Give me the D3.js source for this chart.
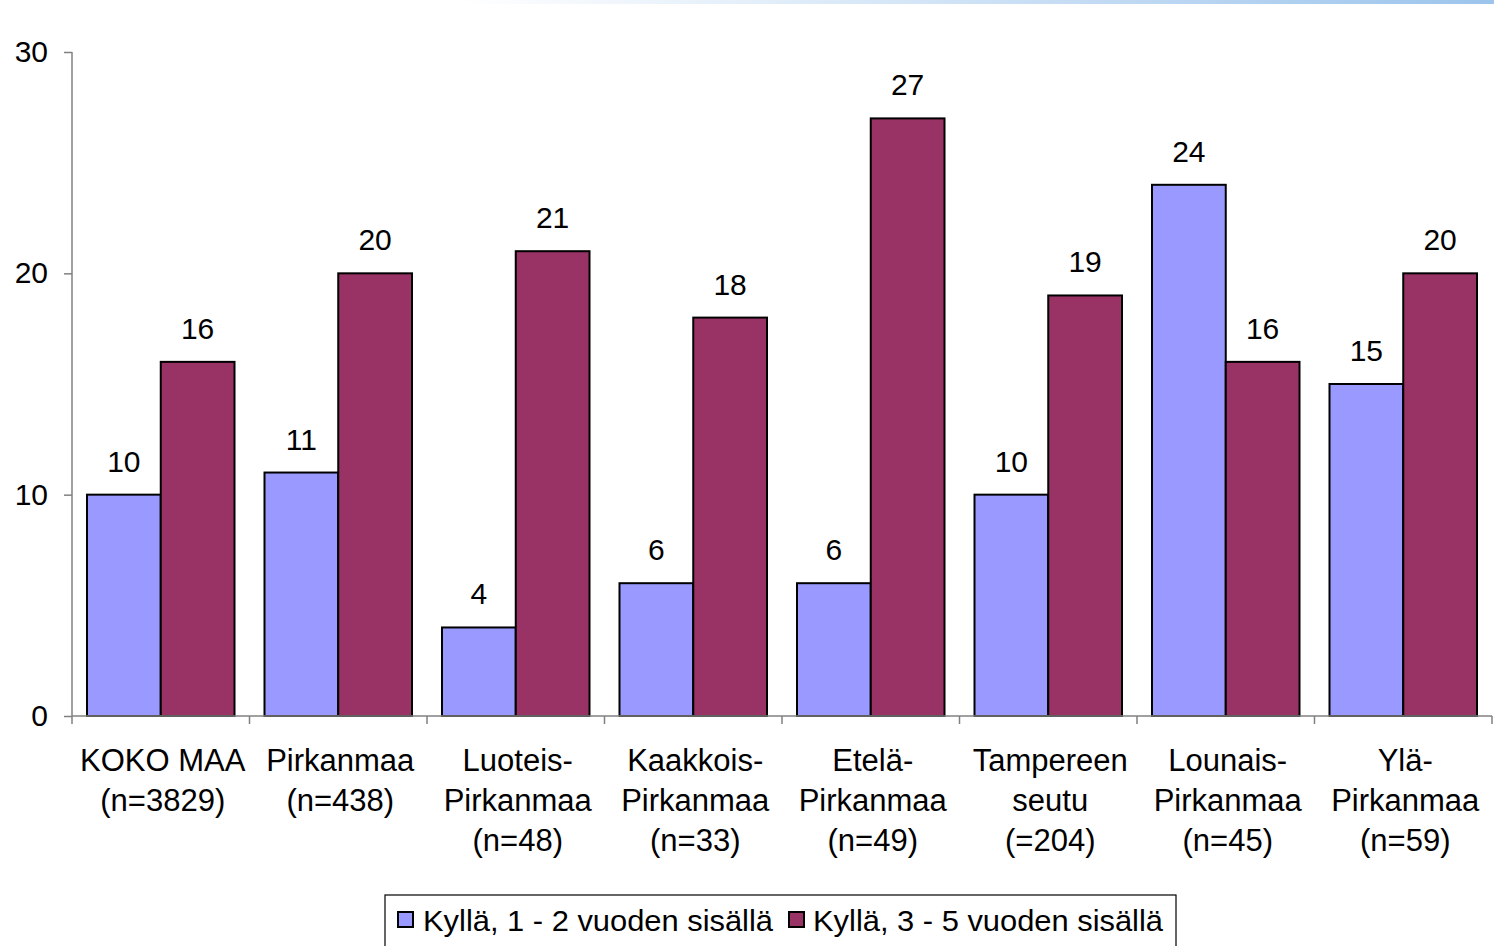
<!DOCTYPE html>
<html><head><meta charset="utf-8">
<script src="https://cdn.jsdelivr.net/npm/d3@7"></script>
<style>body{margin:0;background:#fff;}svg{display:block;font-family:"Liberation Sans",Arial,sans-serif;}</style>
</head><body><svg id="c" width="1494" height="946"></svg>
<script>
const categories = [
  ["KOKO MAA","(n=3829)"],
  ["Pirkanmaa","(n=438)"],
  ["Luoteis-","Pirkanmaa","(n=48)"],
  ["Kaakkois-","Pirkanmaa","(n=33)"],
  ["Etelä-","Pirkanmaa","(n=49)"],
  ["Tampereen","seutu","(=204)"],
  ["Lounais-","Pirkanmaa","(n=45)"],
  ["Ylä-","Pirkanmaa","(n=59)"]
];
const seriesNames = ["Kyllä, 1 - 2 vuoden sisällä","Kyllä, 3 - 5 vuoden sisällä"];
const series1 = [10,11,4,6,6,10,24,15];
const series2 = [16,20,21,18,27,19,16,20];
const yTicks = [0,10,20,30];
const colors = ["#9999FF","#993366"];

const svg = d3.select("#c");
const defs = svg.append("defs");
const g = defs.append("linearGradient").attr("id","topg").attr("x1","0").attr("x2","1");
g.append("stop").attr("offset","0").attr("stop-color","#ffffff");
g.append("stop").attr("offset","1").attr("stop-color","#9cc4ec");
svg.append("rect").attr("x",460).attr("y",0).attr("width",1034).attr("height",4).attr("fill","url(#topg)");

const keys = categories.map(c=>c.join(" "));
const x0 = d3.scaleBand().domain(keys).range([72,1492]).padding(0);
const x1 = d3.scaleBand().domain(seriesNames).range([15, x0.bandwidth()-15]).padding(0);
const y = d3.scaleLinear().domain([0,30]).range([716,52]);

// y axis
const ya = svg.append("g").attr("transform","translate(72,0)")
  .call(d3.axisLeft(y).tickValues(yTicks).tickSize(8).tickPadding(16).tickFormat(d3.format("d")));
ya.select(".domain").attr("stroke","#808080").attr("stroke-width",1.5).attr("d","M0,52V716");
ya.selectAll(".tick line").attr("stroke","#808080").attr("stroke-width",1.5);
ya.selectAll(".tick text").attr("font-size",30).attr("fill","#000").attr("font-family","Liberation Sans, Arial, sans-serif");

// bars
const data = keys.map((k,i)=>({k, vals:[series1[i],series2[i]]}));
const grp = svg.append("g").selectAll("g").data(data).join("g").attr("transform",d=>`translate(${x0(d.k)},0)`);
grp.selectAll("rect").data(d=>d.vals.map((v,j)=>({v,s:seriesNames[j],j}))).join("rect")
  .attr("x",d=>x1(d.s)).attr("width",x1.bandwidth())
  .attr("y",d=>y(d.v)).attr("height",d=>y(0)-y(d.v))
  .attr("fill",d=>colors[d.j]).attr("stroke","#000").attr("stroke-width",2);
grp.selectAll("text").data(d=>d.vals.map((v,j)=>({v,s:seriesNames[j],j}))).join("text")
  .attr("x",d=>x1(d.s)+x1.bandwidth()/2).attr("y",d=>y(d.v)-23)
  .attr("text-anchor","middle").attr("font-size",30).text(d=>d.v);

// x axis
const xa = svg.append("g");
xa.append("line").attr("x1",72).attr("x2",1492).attr("y1",716).attr("y2",716).attr("stroke","#808080").attr("stroke-width",1.5);
const bounds = keys.map(k=>x0(k)).concat([x0.range()[1]]);
xa.selectAll("line.t").data(bounds).join("line").attr("class","t")
  .attr("x1",d=>d).attr("x2",d=>d).attr("y1",716).attr("y2",724).attr("stroke","#808080").attr("stroke-width",1.5);
const lab = svg.append("g").selectAll("text").data(categories).join("text")
  .attr("x",(d,i)=>x0(keys[i])+x0.bandwidth()/2+2).attr("y",771)
  .attr("text-anchor","middle").attr("font-size",31);
lab.selectAll("tspan").data(d=>d).join("tspan")
  .attr("x",function(){return this.parentNode.getAttribute("x");})
  .attr("dy",(d,i)=>i===0?0:40).text(d=>d);

// legend
const lg = svg.append("g");
lg.append("rect").attr("x",385).attr("y",895).attr("width",791).attr("height",60).attr("fill","#fff").attr("stroke","#000").attr("stroke-width",1.2);
const lx = [398,789], tx=[423,813];
seriesNames.forEach((s,i)=>{
  lg.append("rect").attr("x",lx[i]).attr("y",912).attr("width",15).attr("height",15).attr("fill",colors[i]).attr("stroke","#000").attr("stroke-width",2);
  lg.append("text").attr("x",tx[i]).attr("y",931).attr("font-size",30)
    .attr("textLength",350).attr("lengthAdjust","spacingAndGlyphs").text(s);
});
</script></body></html>
